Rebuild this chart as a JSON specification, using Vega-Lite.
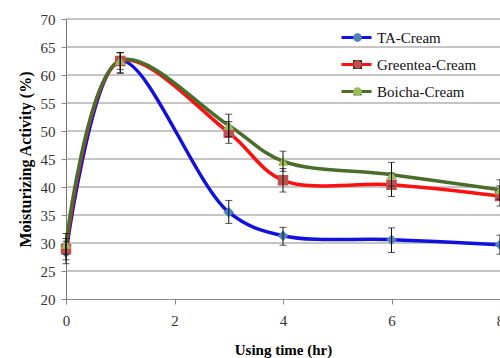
{
  "$schema": "https://vega.github.io/schema/vega-lite/v6.json",
  "width": 434,
  "height": 280,
  "autosize": {"type": "none"},
  "padding": {"left": 66, "top": 19, "right": 0, "bottom": 59},
  "background": "white",
  "config": {
    "font": "Liberation Serif",
    "view": {"stroke": null},
    "axisY": {
      "tickCount": 10, "labelOverlap": false, "grid": false,
      "titleFontSize": 16, "titleFontWeight": "bold", "titleColor": "black", "titlePadding": 7,
      "labelFontSize": 15, "labelColor": "#333", "labelPadding": 6, "labelFont": "Liberation Serif",
      "tickSize": 5, "tickColor": "#888", "domainColor": "#777"
    }
  },
  "datasets": {
    "gridlines": [{"g": 25}, {"g": 30}, {"g": 35}, {"g": 40}, {"g": 45}, {"g": 50}, {"g": 55}, {"g": 60}, {"g": 65}, {"g": 70}]
  },
  "data": {"values": [
    {"series": "TA-Cream", "t": 0, "v": 28.3, "lo": 26.3, "hi": 30.3},
    {"series": "TA-Cream", "t": 1, "v": 62.5, "lo": 61.0, "hi": 64.0},
    {"series": "TA-Cream", "t": 3, "v": 35.5, "lo": 33.5, "hi": 37.6},
    {"series": "TA-Cream", "t": 4, "v": 31.3, "lo": 29.6, "hi": 32.8},
    {"series": "TA-Cream", "t": 6, "v": 30.6, "lo": 28.3, "hi": 32.7},
    {"series": "TA-Cream", "t": 8, "v": 29.7, "lo": 28.0, "hi": 31.4},
    {"series": "Greentea-Cream", "t": 0, "v": 28.9, "lo": 27.0, "hi": 30.8},
    {"series": "Greentea-Cream", "t": 1, "v": 62.5, "lo": 60.4, "hi": 64.0},
    {"series": "Greentea-Cream", "t": 3, "v": 49.7, "lo": 47.8, "hi": 51.7},
    {"series": "Greentea-Cream", "t": 4, "v": 41.2, "lo": 39.1, "hi": 43.3},
    {"series": "Greentea-Cream", "t": 6, "v": 40.4, "lo": 38.3, "hi": 42.5},
    {"series": "Greentea-Cream", "t": 8, "v": 38.4, "lo": 36.6, "hi": 40.2},
    {"series": "Boicha-Cream", "t": 0, "v": 29.8, "lo": 28.0, "hi": 31.7},
    {"series": "Boicha-Cream", "t": 1, "v": 62.6, "lo": 60.3, "hi": 64.0},
    {"series": "Boicha-Cream", "t": 3, "v": 51.0, "lo": 49.0, "hi": 53.0},
    {"series": "Boicha-Cream", "t": 4, "v": 44.6, "lo": 42.8, "hi": 46.4},
    {"series": "Boicha-Cream", "t": 6, "v": 42.2, "lo": 40.2, "hi": 44.4},
    {"series": "Boicha-Cream", "t": 8, "v": 39.5, "lo": 37.8, "hi": 41.3}
  ]},
  "layer": [
    {
      "data": {"name": "gridlines"},
      "mark": {"type": "rule", "color": "#8c8c8c", "strokeWidth": 1},
      "encoding": {
        "y": {"field": "g", "type": "quantitative", "title": "Moisturizing Activity (%)"}
      }
    },
    {
      "mark": {"type": "line", "interpolate": "catmull-rom", "strokeWidth": 3.5},
      "encoding": {
        "x": {
          "field": "t", "type": "quantitative",
          "scale": {"domain": [0, 8], "nice": false},
          "axis": {
            "values": [0, 2, 4, 6, 8], "grid": false,
            "title": "Using time (hr)", "titleFontSize": 15, "titleFontWeight": "bold", "titleColor": "black", "titlePadding": 14,
            "labelFontSize": 15, "labelColor": "#333", "labelPadding": 9, "labelFont": "Liberation Serif",
            "tickSize": 5, "tickColor": "#888", "domainColor": "#888", "labelFlush": false
          }
        },
        "y": {
          "field": "v", "type": "quantitative", "title": "Moisturizing Activity (%)",
          "scale": {"domain": [20, 70], "nice": false, "zero": false}
        },
        "color": {
          "field": "series", "type": "nominal",
          "scale": {"domain": ["TA-Cream", "Greentea-Cream", "Boicha-Cream"], "range": ["#1010e0", "#ff1010", "#4a6e2a"]},
          "legend": {
            "orient": "none", "legendX": 283, "legendY": 11, "title": null,
            "symbolType": "M-2.5,0H2.5", "symbolSize": 144, "symbolStrokeWidth": 3,
            "labelFont": "Liberation Serif", "labelFontSize": 15, "labelColor": "#111",
            "labelOffset": 13, "rowPadding": 11, "padding": 0
          }
        },
        "detail": {"field": "series"}
      }
    },
    {
      "mark": {"type": "point", "filled": true, "opacity": 1, "size": 110},
      "encoding": {
        "x": {"field": "t", "type": "quantitative", "title": "Using time (hr)"},
        "y": {"field": "v", "type": "quantitative", "title": "Moisturizing Activity (%)"},
        "fill": {
          "field": "series", "type": "nominal",
          "sort": ["TA-Cream", "Greentea-Cream", "Boicha-Cream"],
          "scale": {"range": ["#4f81bd", "#c0504d", "#9bbb59"]},
          "legend": {
            "orient": "none", "legendX": 284, "legendY": 11, "title": null,
            "symbolSize": 75, "symbolStrokeWidth": 0,
            "labelFont": "Liberation Serif", "labelFontSize": 15, "labelColor": "transparent",
            "rowPadding": 11, "padding": 0
          }
        },
        "shape": {
          "field": "series", "type": "nominal",
          "sort": ["TA-Cream", "Greentea-Cream", "Boicha-Cream"],
          "scale": {"range": ["diamond", "square", "triangle-up"]},
          "legend": {
            "orient": "none", "legendX": 284, "legendY": 11, "title": null,
            "symbolSize": 75, "symbolStrokeWidth": 0,
            "labelFont": "Liberation Serif", "labelFontSize": 15, "labelColor": "transparent",
            "rowPadding": 11, "padding": 0
          }
        }
      }
    },
    {
      "mark": {"type": "rule", "color": "#111", "strokeWidth": 1},
      "encoding": {
        "x": {"field": "t", "type": "quantitative", "title": "Using time (hr)"},
        "y": {"field": "lo", "type": "quantitative", "title": "Moisturizing Activity (%)"},
        "y2": {"field": "hi"}
      }
    },
    {
      "mark": {"type": "tick", "orient": "horizontal", "color": "#111", "thickness": 1, "size": 7},
      "encoding": {
        "x": {"field": "t", "type": "quantitative", "title": "Using time (hr)"},
        "y": {"field": "lo", "type": "quantitative", "title": "Moisturizing Activity (%)"}
      }
    },
    {
      "mark": {"type": "tick", "orient": "horizontal", "color": "#111", "thickness": 1, "size": 7},
      "encoding": {
        "x": {"field": "t", "type": "quantitative", "title": "Using time (hr)"},
        "y": {"field": "hi", "type": "quantitative", "title": "Moisturizing Activity (%)"}
      }
    }
  ]
}
